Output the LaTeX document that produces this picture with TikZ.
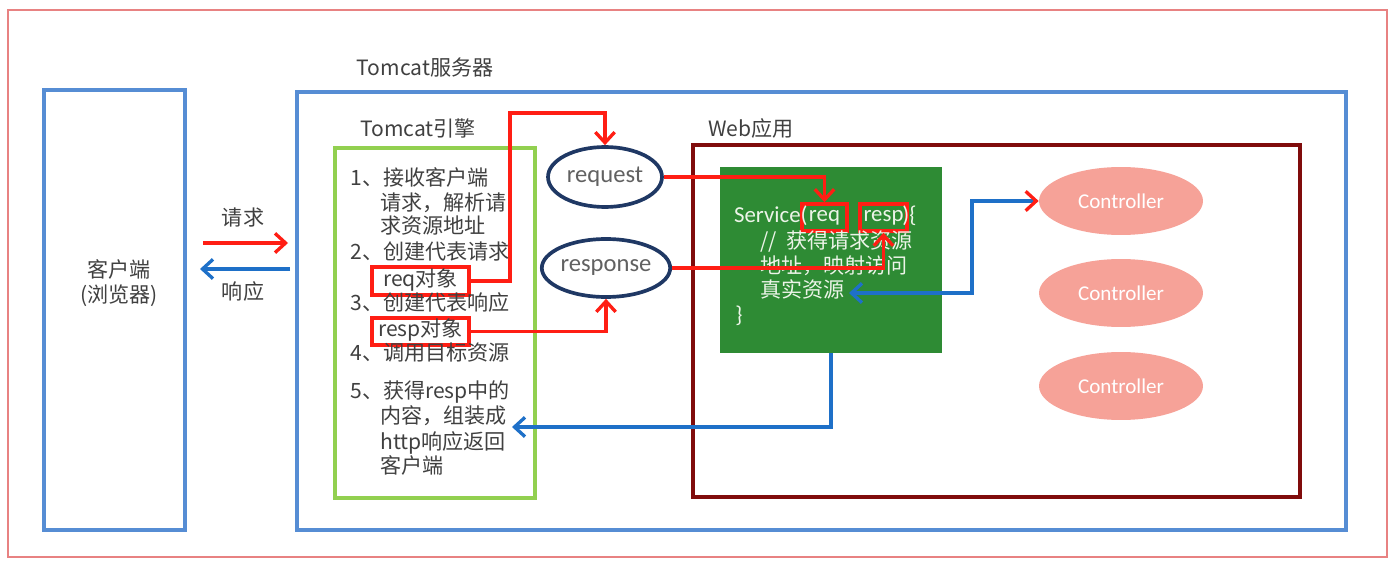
\documentclass[tikz,border=0pt]{standalone}
\usepackage{fontspec}
\setmainfont{Noto Sans CJK SC}
\newfontfamily\calfont{Carlito}
\usetikzlibrary{arrows.meta,shapes.geometric}
\definecolor{frameRed}{RGB}{232,130,130}
\definecolor{boxBlue}{RGB}{86,141,212}
\definecolor{engGreen}{RGB}{146,208,80}
\definecolor{webRed}{RGB}{128,12,12}
\definecolor{svcGreen}{RGB}{46,139,52}
\definecolor{ctlPink}{RGB}{246,162,152}
\definecolor{ellBlue}{RGB}{31,56,100}
\definecolor{arrRed}{RGB}{255,30,20}
\definecolor{arrBlue}{RGB}{30,112,200}
\definecolor{txtGray}{RGB}{64,64,64}
\definecolor{svcTxt}{RGB}{236,244,232}
\begin{document}
\begin{tikzpicture}[x=0.02cm,y=-0.02cm,
  frame/.style={draw=#1, line width=2.1pt, minimum width=0pt, minimum height=0pt, inner sep=0pt},
  lbl/.style={font=\fontsize{12}{14}\selectfont, text=txtGray, inner sep=0pt, text height=0.8em, text depth=0.2em},
  engtxt/.style={lbl, anchor=west},
  svctxt/.style={font=\fontsize{12}{14}\selectfont, text=svcTxt, inner sep=0pt, text height=0.8em, text depth=0.2em, anchor=west},
  svccode/.style={font=\calfont\fontsize{13}{15}\selectfont, text=svcTxt, inner sep=0pt, text height=0.75em, text depth=0.25em},
  redbox/.style={draw=arrRed, line width=2pt, inner sep=0pt},
  ovalnode/.style={ellipse, draw=ellBlue, line width=2.1pt, fill=white, inner sep=0pt, font=\calfont\fontsize{14}{16}\selectfont, text=black!62},
  ctl/.style={ellipse, fill=ctlPink, inner sep=0pt, minimum width=3.28cm, minimum height=1.36cm, font=\calfont\fontsize{12}{14}\selectfont, text=white},
  redarr/.style={draw=arrRed, line width=1.9pt, -{Straight Barb[length=6pt,width=11pt]}},
  bluearr/.style={draw=arrBlue, line width=1.9pt, -{Straight Barb[length=6pt,width=11pt]}}
]
\useasboundingbox (0,0) rectangle (1400,571);
\draw[frameRed, line width=0.6pt] (8,10) rectangle (1387,557);

% containers
\node[frame=boxBlue, minimum width=2.82cm, minimum height=8.8cm] (client) at (114.5,310) {};
\node[frame=boxBlue, minimum width=20.98cm, minimum height=8.76cm] (server) at (821.5,311) {};
\node[frame=engGreen, minimum width=4cm, minimum height=7cm] (engine) at (435,323) {};
\node[frame=webRed, minimum width=12.14cm, minimum height=7.04cm] (web) at (996.5,321) {};
\node[fill=svcGreen, inner sep=0pt, minimum width=4.44cm, minimum height=3.72cm] (service) at (831,260) {};

% titles
\node[lbl] (serverTitle) at (425,70) {Tomcat服务器};
\node[lbl] (engineTitle) at (418,131) {Tomcat引擎};
\node[lbl] (webTitle) at (751,131) {Web应用};
\node[lbl, align=center, text height=, text depth=] (clientTxt) at (119,283) {客户端\\(浏览器)};

% client arrows
\coordinate (qL) at (203,243);
\coordinate (qR) at (288,243);
\coordinate (rR) at (290,269);
\coordinate (rL) at (200,269);
\node[lbl] (qTxt) at (243,220) {请求};
\node[lbl] (rTxt) at (243,294) {响应};
\draw[redarr] (qL) -- (qR);
\draw[bluearr] (rR) -- (rL);

% engine text
\node[engtxt] (e1) at (350,180) {1、接收客户端};
\node[engtxt] (e1b) at (380,205) {请求，解析请};
\node[engtxt] (e1c) at (380,228) {求资源地址};
\node[engtxt] (e2) at (350,254) {2、创建代表请求};
\node[redbox, lbl, minimum width=1.94cm, minimum height=0.56cm] (reqbox) at (420.5,281) {req对象};
\node[engtxt] (e3) at (350,305) {3、创建代表响应};
\node[redbox, lbl, minimum width=1.94cm, minimum height=0.54cm] (respbox) at (420.5,331.5) {resp对象};
\node[engtxt] (e4) at (350,355) {4、调用目标资源};
\node[engtxt] (e5) at (350,393) {5、获得resp中的};
\node[engtxt] (e5b) at (380,418) {内容，组装成};
\node[engtxt] (e5c) at (380,444) {http响应返回};
\node[engtxt] (e5d) at (380,468) {客户端};

% request / response
\node[ovalnode, minimum width=2.28cm, minimum height=1.2cm] (request) at (605,177) {request};
\node[ovalnode, minimum width=2.32cm, minimum height=1.16cm] (response) at (606,268) {response};

% service text
\node[redbox, svccode, minimum width=0.9cm, minimum height=0.54cm] (sreq) at (824.5,217.5) {req};
\node[redbox, svccode, minimum width=0.94cm, minimum height=0.54cm] (sresp) at (883.5,217.5) {resp};
\node[svccode, anchor=east] (svcName) at (808,218) {Service(};
\node[svccode, anchor=west] (svcOpen) at (902,218) {)\{};
\node[svctxt] (s1) at (760,243) {//\ \ 获得请求资源};
\node[svctxt] (s2) at (760,268) {地址，映射访问};
\node[svctxt] (s3) at (760,292) {真实资源};
\node[svccode, anchor=west] (s4) at (735,318) {\}};

% controllers
\node[ctl] (ctl1) at (1121,201) {Controller};
\node[ctl] (ctl2) at (1121,293) {Controller};
\node[ctl] (ctl3) at (1121,386) {Controller};

% red flow
\coordinate (c1) at (510,113);
\draw[redarr] (reqbox.east) -| (c1) -| (request.north);
\draw[redarr] (respbox.east) -| (response.south);
\draw[redarr] (request.east) -| (sreq.north);
\draw[redarr] (response.east) -| (sresp.south);

% blue flow
\coordinate (engTip) at (512,427);
\draw[bluearr] (service.south) |- (engTip);
\coordinate (realTip) at (849,293);
\coordinate (c2) at (972,201);
\draw[draw=arrBlue, line width=1.9pt, {Straight Barb[length=6pt,width=11pt]}-{Straight Barb[length=6pt,width=11pt,color=arrRed]}] (realTip) -| (c2) -- (ctl1.west);
\end{tikzpicture}
\end{document}
